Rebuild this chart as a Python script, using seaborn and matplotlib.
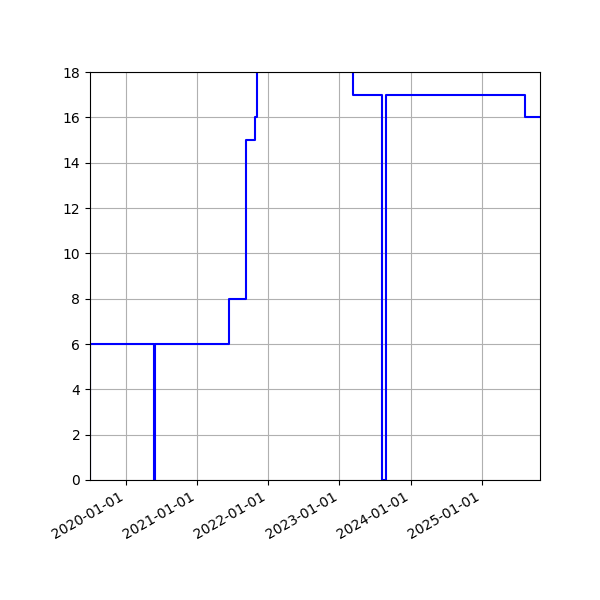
import pandas as pd
import seaborn as sns
import matplotlib.pyplot as plt
import matplotlib.dates as mdates

dates = ["2019-07-03", "2019-07-05", "2020-05-28", "2020-06-02", "2021-06-14",
         "2021-09-09", "2021-10-28", "2021-11-04", "2023-03-12", "2023-08-07",
         "2023-08-27", "2025-08-08", "2025-10-25"]
values = [0, 6, 0, 6, 8, 15, 16, 25, 17, 0, 17, 16, 16]

df = pd.DataFrame({"date": pd.to_datetime(dates), "value": values})

fig, ax = plt.subplots(figsize=(6, 6), dpi=100)
sns.lineplot(data=df, x="date", y="value", ax=ax, color="blue",
             drawstyle="steps-post", linewidth=1.5)

ax.set_xlim(df["date"].min(), df["date"].max())
ax.set_ylim(0, 18)
ax.set_yticks(range(0, 19, 2))
ax.xaxis.set_major_locator(mdates.YearLocator())
ax.xaxis.set_major_formatter(mdates.DateFormatter("%Y-%m-%d"))
ax.set_xlabel("")
ax.set_ylabel("")
ax.grid(True)
fig.autofmt_xdate()
fig.subplots_adjust(left=0.15, right=0.9, top=0.88, bottom=0.2)
plt.savefig("out.png")
